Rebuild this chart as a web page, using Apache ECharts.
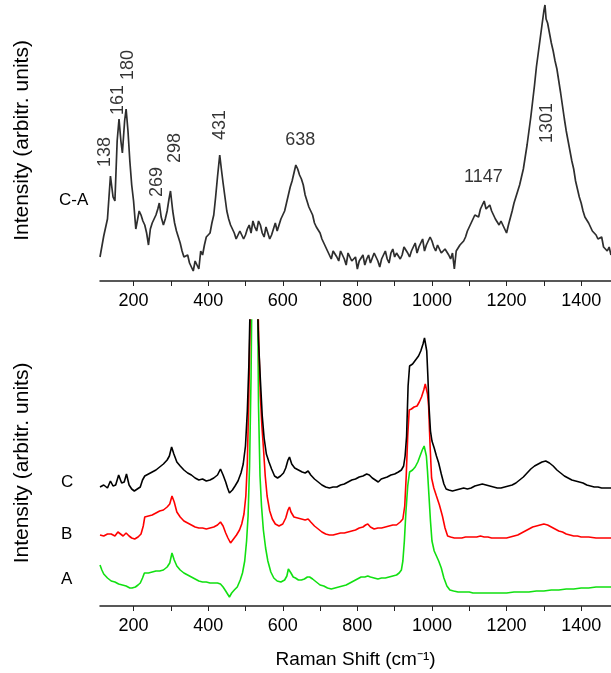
<!DOCTYPE html>
<html>
<head>
<meta charset="utf-8">
<script src="https://cdn.jsdelivr.net/npm/echarts@6/dist/echarts.min.js"></script>
<style>
  html, body { margin: 0; padding: 0; background: #fff; }
  #chart { width: 611px; height: 673px; }
</style>
</head>
<body>
<div id="chart"></div>
<script>
// Raman shift (cm-1) / intensity pairs
var diffCA = [
  [110,24],[120,45],[130,62],[138,105],[145,84],[150,80],[156,140],[161,162],[166,140],[170,128],
  [176,160],[180,172],[185,150],[190,120],[195,96],[200,80],[206,52],[210,50],[215,70],[220,66],
  [225,60],[230,56],[235,48],[240,36],[245,52],[250,58],[255,62],[260,66],[265,72],[269,78],
  [274,64],[280,56],[285,62],[290,70],[295,82],[299,90],[305,70],[310,58],[315,50],[320,44],
  [325,38],[330,30],[335,24],[340,22],[345,26],[350,18],[355,14],[360,10],[365,20],[370,16],
  [375,12],[380,30],[385,26],[390,36],[395,44],[400,42],[405,48],[410,58],[415,66],[420,84],
  [425,104],[431,126],[436,110],[440,98],[445,84],[450,70],[455,62],[460,56],[465,52],[470,48],
  [475,42],[480,40],[485,50],[490,52],[495,42],[500,46],[505,52],[510,56],[515,48],[520,60],
  [525,54],[530,50],[535,60],[540,56],[545,48],[550,44],[555,54],[560,52],[565,42],[570,46],
  [575,52],[580,58],[585,50],[590,56],[595,62],[600,66],[605,70],[610,78],[615,86],[620,94],
  [625,100],[630,108],[635,116],[640,112],[645,106],[650,102],[655,96],[660,86],[665,80],[670,74],
  [675,70],[680,66],[685,58],[690,54],[695,52],[700,48],[705,42],[710,38],[715,40],[720,30],
  [725,26],[730,22],[735,30],[740,28],[745,24],[750,20],[755,30],[760,26],[765,22],[770,16],
  [775,28],[780,24],[785,20],[790,18],[795,24],[800,12],[805,20],[810,22],[815,26],[820,16],
  [825,22],[830,26],[835,18],[840,20],[845,28],[850,24],[855,20],[860,14],[865,22],[870,26],
  [875,30],[880,22],[885,18],[890,28],[895,32],[900,24],[905,28],[910,30],[915,22],[920,26],
  [925,34],[930,32],[935,28],[940,24],[945,30],[950,34],[955,38],[960,28],[965,34],[970,38],
  [975,42],[980,30],[985,36],[990,36],[995,44],[1000,40],[1005,34],[1010,30],[1015,36],[1020,34],
  [1025,28],[1030,26],[1035,32],[1040,30],[1045,26],[1050,22],[1055,28],[1060,12],[1065,30],[1070,28],
  [1075,36],[1080,34],[1085,40],[1090,44],[1095,50],[1100,54],[1105,58],[1110,60],[1115,66],[1120,68],
  [1125,64],[1130,72],[1135,76],[1140,80],[1145,72],[1150,74],[1155,76],[1160,70],[1165,66],[1170,62],
  [1175,64],[1180,56],[1185,60],[1190,60],[1195,52],[1200,48],[1205,56],[1210,58],[1215,70],[1220,78],
  [1225,84],[1230,90],[1235,96],[1240,104],[1245,112],[1250,124],[1255,136],[1260,150],[1265,164],[1270,180],
  [1275,196],[1280,214],[1285,228],[1290,242],[1295,256],[1300,270],[1303,276],[1306,262],[1310,258],[1315,248],
  [1320,238],[1325,230],[1330,220],[1335,212],[1340,200],[1345,188],[1350,175],[1355,162],[1360,150],[1365,140],
  [1370,130],[1375,120],[1380,112],[1385,100],[1390,92],[1395,84],[1400,78],[1405,70],[1410,64],[1415,62],
  [1420,58],[1425,54],[1430,50],[1435,52],[1440,46],[1445,42],[1450,40],[1455,44],[1460,34],[1465,36],
  [1470,30],[1475,34],[1480,26]
];

var specC = [
  [110,119],[120,121],[130,118],[138,125],[145,120],[152,121],[160,131],[168,123],[175,124],[181,132],
  [188,121],[195,117],[202,115],[210,117],[218,119],[224,126],[230,130],[240,132],[250,134],[260,136],
  [270,139],[280,142],[290,146],[296,150],[302,159],[308,152],[316,144],[325,140],[335,136],[345,133],
  [355,131],[365,128],[375,126],[385,127],[395,125],[405,126],[415,128],[425,131],[433,137],[440,131],
  [447,124],[452,118],[457,113],[465,116],[472,120],[480,125],[488,133],[494,142],[500,160],[505,195],
  [509,240],[513,310],[518,450],[522,500],[527,420],[531,320],[535,265],[540,226],[545,190],[550,168],
  [556,152],[563,144],[570,137],[578,130],[586,128],[594,130],[602,133],[608,138],[614,146],[618,149],
  [624,142],[632,138],[642,136],[652,134],[660,133],[668,135],[675,131],[685,127],[695,124],[705,121],
  [715,119],[725,118],[735,119],[745,119],[755,121],[765,122],[775,124],[785,126],[795,127],[805,129],
  [815,130],[825,132],[832,131],[840,128],[848,126],[856,124],[864,127],[872,128],[880,129],[890,131],
  [900,132],[910,134],[918,136],[924,140],[928,150],[932,170],[936,220],[940,240],[948,242],[956,246],
  [964,250],[970,255],[976,262],[980,268],[983,268],[986,255],[989,230],[992,200],[996,175],[1000,165],
  [1006,158],[1012,150],[1018,143],[1025,132],[1032,122],[1038,117],[1045,116],[1055,115],[1065,116],[1075,117],
  [1085,118],[1095,117],[1105,118],[1115,120],[1125,121],[1135,122],[1145,121],[1155,120],[1165,119],[1175,118],
  [1185,118],[1195,119],[1205,120],[1215,121],[1225,123],[1235,126],[1245,129],[1255,133],[1265,137],[1275,140],
  [1285,142],[1295,144],[1305,145],[1315,143],[1325,140],[1335,136],[1345,133],[1355,130],[1365,128],[1375,126],
  [1385,125],[1395,124],[1405,123],[1415,121],[1425,120],[1435,119],[1445,119],[1455,118],[1465,118],[1480,118]
];

var specB = [
  [110,71],[120,70],[130,72],[140,72],[150,70],[158,74],[165,72],[172,70],[180,73],[188,70],
  [195,68],[203,67],[212,69],[220,72],[226,80],[230,89],[240,90],[250,91],[260,93],[270,95],
  [280,96],[290,99],[297,102],[303,110],[309,104],[316,94],[325,89],[335,85],[345,83],[355,81],
  [365,79],[375,78],[385,78],[395,77],[405,78],[415,79],[425,81],[433,84],[440,80],[447,73],
  [453,68],[460,63],[468,67],[476,71],[484,76],[490,82],[496,92],[501,110],[505,143],[509,210],
  [513,300],[518,440],[523,500],[528,420],[532,330],[536,260],[540,210],[544,180],[548,159],[553,130],
  [558,110],[565,95],[572,87],[580,82],[590,80],[600,82],[608,88],[614,96],[618,99],[622,94],
  [630,89],[640,88],[650,87],[660,86],[668,87],[675,84],[685,80],[695,77],[705,74],[715,72],
  [725,71],[735,71],[745,72],[755,73],[765,73],[775,74],[785,75],[795,76],[805,78],[815,79],
  [822,81],[828,82],[835,79],[845,77],[855,78],[865,78],[875,79],[885,80],[895,81],[905,81],
  [915,84],[922,87],[927,100],[931,130],[935,170],[939,196],[945,197],[952,199],[960,200],[966,204],
  [972,209],[978,216],[982,222],[985,220],[988,212],[991,200],[995,160],[999,128],[1005,118],[1012,110],
  [1020,101],[1028,90],[1035,78],[1042,70],[1050,69],[1060,68],[1070,68],[1080,68],[1090,69],[1100,69],
  [1110,69],[1120,69],[1130,70],[1140,69],[1150,69],[1160,68],[1170,68],[1180,68],[1190,68],[1200,68],
  [1210,69],[1220,70],[1230,71],[1240,73],[1250,75],[1260,77],[1270,79],[1280,80],[1290,81],[1300,82],
  [1310,81],[1320,79],[1330,77],[1340,75],[1350,74],[1360,72],[1370,71],[1380,70],[1390,70],[1400,69],
  [1420,69],[1440,68],[1460,68],[1480,68]
];

var specA = [
  [110,41],[115,36],[120,32],[130,28],[140,25],[150,24],[160,22],[170,21],[180,20],[190,18],
  [196,18],[205,19],[212,21],[218,23],[224,28],[229,33],[240,33],[250,34],[260,35],[270,35],
  [280,36],[290,39],[297,43],[303,53],[309,46],[316,40],[325,36],[335,33],[345,31],[355,29],
  [365,27],[375,25],[385,24],[395,24],[405,23],[415,23],[425,23],[433,22],[440,19],[447,15],
  [452,12],[457,9],[463,13],[470,16],[478,19],[486,26],[492,33],[498,45],[503,65],[507,90],
  [511,140],[515,230],[519,380],[523,500],[529,500],[532,330],[535,200],[539,130],[543,100],[548,76],
  [554,58],[560,45],[568,34],[576,28],[585,25],[595,24],[605,26],[611,30],[615,37],[618,39],
  [622,33],[628,29],[634,28],[642,26],[650,26],[658,27],[666,29],[672,29],[680,27],[690,24],
  [700,21],[710,20],[720,18],[730,17],[740,18],[750,19],[760,20],[770,21],[780,23],[790,25],
  [800,27],[810,29],[820,29],[828,30],[835,29],[845,28],[855,27],[865,28],[875,28],[885,29],
  [895,30],[905,31],[912,33],[918,36],[922,45],[926,65],[930,93],[935,120],[940,134],[948,136],
  [955,139],[962,144],[968,150],[974,156],[979,160],[982,161],[985,150],[988,135],[992,110],[996,85],
  [1000,65],[1006,55],[1012,50],[1018,45],[1025,38],[1032,28],[1040,20],[1048,16],[1058,15],[1070,14],
  [1080,14],[1090,14],[1100,14],[1110,13],[1120,13],[1130,13],[1140,13],[1150,13],[1160,13],[1170,13],
  [1180,13],[1190,13],[1200,13],[1220,14],[1240,14],[1260,14],[1280,15],[1300,15],[1320,16],[1340,16],
  [1360,17],[1380,17],[1400,18],[1420,18],[1440,19],[1460,19],[1480,19]
];

// peak annotations of the C-A spectrum
var peakNames = ['138', '161', '180', '269', '298', '431', '638', '1147', '1301'];
var peakAnchor = [[124,129],[159,181],[186,216],[264,99],[312,133],[433,156],[647,141],[1138,104],[1309,158]];
var peakVertical = [true, true, true, true, true, true, false, false, true];

var xLabelValues = [200, 400, 600, 800, 1000, 1200, 1400];
var xTickValues = [200, 300, 400, 500, 600, 700, 800, 900, 1000, 1100, 1200, 1300, 1400];

var FONT = 'Liberation Sans, Arial, sans-serif';

function makeX(idx, name) {
  return {
    type: 'value',
    gridIndex: idx,
    min: 110,
    max: 1480,
    name: name,
    nameLocation: 'middle',
    nameGap: 44,
    nameTextStyle: { fontSize: 19, color: '#000', fontFamily: FONT },
    axisLine: { onZero: false, lineStyle: { color: '#222', width: 1.5 } },
    axisTick: { customValues: xTickValues, length: 5, lineStyle: { color: '#222', width: 1 } },
    axisLabel: {
      customValues: xLabelValues, fontSize: 18, color: '#000', margin: 11, fontFamily: FONT,
      formatter: function (v) { return String(v); }
    },
    splitLine: { show: false }
  };
}

function makeY(idx, max) {
  return {
    type: 'value',
    gridIndex: idx,
    min: 0,
    max: max,
    name: 'Intensity (arbitr. units)',
    nameLocation: 'middle',
    nameGap: 67,
    nameTextStyle: { fontSize: 21, color: '#000', fontFamily: FONT },
    axisLine: { show: false },
    axisTick: { show: false },
    axisLabel: { show: false },
    splitLine: { show: false }
  };
}

var peakData = peakNames.map(function (n, i) {
  return {
    name: n,
    value: peakAnchor[i],
    label: { rotate: peakVertical[i] ? 90 : 0 }
  };
});

var myChart = echarts.init(document.getElementById('chart'));
var option = {
  animation: false,
  backgroundColor: '#fff',
  grid: [
    { left: 100, right: 0, top: 0, height: 281 },
    { left: 100, right: 0, top: 320, height: 286 }
  ],
  xAxis: [makeX(0, ''), makeX(1, 'Raman Shift (cm\u207B\u00B9)')],
  yAxis: [makeY(0, 281), makeY(1, 286)],
  graphic: [
    { type: 'text', left: 59, top: 192, style: { text: 'C-A', fontSize: 17, fill: '#000', fontFamily: FONT } },
    { type: 'text', left: 61, top: 474, style: { text: 'C', fontSize: 17, fill: '#000', fontFamily: FONT } },
    { type: 'text', left: 61, top: 526, style: { text: 'B', fontSize: 17, fill: '#000', fontFamily: FONT } },
    { type: 'text', left: 61, top: 571, style: { text: 'A', fontSize: 17, fill: '#000', fontFamily: FONT } }
  ],
  series: [
    {
      type: 'line', xAxisIndex: 0, yAxisIndex: 0, data: diffCA,
      showSymbol: false, lineStyle: { color: '#2e2e2e', width: 1.7 }
    },
    {
      type: 'scatter', xAxisIndex: 0, yAxisIndex: 0, data: peakData,
      symbolSize: 0, silent: true,
      label: {
        show: true, position: 'inside', formatter: '{b}',
        fontSize: 18, color: '#000', fontFamily: FONT
      }
    },
    {
      type: 'line', xAxisIndex: 1, yAxisIndex: 1, data: specA,
      showSymbol: false, lineStyle: { color: '#11e011', width: 1.6 }
    },
    {
      type: 'line', xAxisIndex: 1, yAxisIndex: 1, data: specB,
      showSymbol: false, lineStyle: { color: '#ff0000', width: 1.6 }
    },
    {
      type: 'line', xAxisIndex: 1, yAxisIndex: 1, data: specC,
      showSymbol: false, lineStyle: { color: '#000', width: 1.6 }
    }
  ]
};
myChart.setOption(option);
</script>
</body>
</html>
